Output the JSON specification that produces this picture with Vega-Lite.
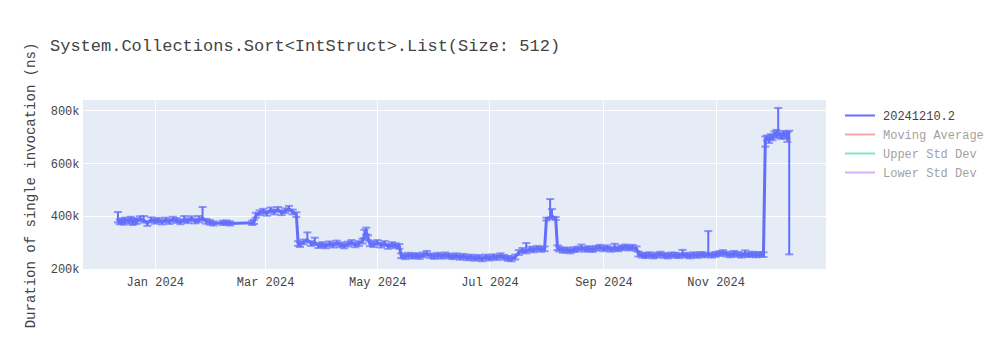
{
  "$schema": "https://vega.github.io/schema/vega-lite/v6.json",
  "width": 743,
  "height": 170,
  "autosize": {"type": "none"},
  "padding": {"left": 83, "top": 100, "right": 174, "bottom": 80},
  "background": "white",
  "config": {
    "view": {"fill": "#e5ecf6", "stroke": null},
    "font": "Liberation Mono"
  },
  "title": {
    "text": "System.Collections.Sort<IntStruct>.List(Size: 512)",
    "anchor": "start",
    "frame": "group",
    "dx": -33,
    "offset": 0,
    "dy": 26,
    "baseline": "alphabetic",
    "fontSize": 17,
    "fontWeight": "normal",
    "color": "#444",
    "font": "Liberation Mono"
  },
  "data": {
    "values": [
      {"d":"2023-12-12","s":"20241210.2","v":385000,"lo":376000,"hi":415000},
      {"d":"2023-12-13","s":"20241210.2","v":378000,"lo":369000,"hi":387000},
      {"d":"2023-12-14","s":"20241210.2","v":382000,"lo":373000,"hi":391000},
      {"d":"2023-12-15","s":"20241210.2","v":376000,"lo":367000,"hi":385000},
      {"d":"2023-12-16","s":"20241210.2","v":385000,"lo":376000,"hi":394000},
      {"d":"2023-12-18","s":"20241210.2","v":380000,"lo":371000,"hi":389000},
      {"d":"2023-12-19","s":"20241210.2","v":388000,"lo":379000,"hi":397000},
      {"d":"2023-12-20","s":"20241210.2","v":375000,"lo":366000,"hi":384000},
      {"d":"2023-12-21","s":"20241210.2","v":383000,"lo":374000,"hi":392000},
      {"d":"2023-12-22","s":"20241210.2","v":379000,"lo":370000,"hi":388000},
      {"d":"2023-12-24","s":"20241210.2","v":390000,"lo":381000,"hi":399000},
      {"d":"2023-12-26","s":"20241210.2","v":384000,"lo":375000,"hi":400000},
      {"d":"2023-12-28","s":"20241210.2","v":372000,"lo":363000,"hi":381000},
      {"d":"2023-12-30","s":"20241210.2","v":386000,"lo":377000,"hi":395000},
      {"d":"2024-01-01","s":"20241210.2","v":380000,"lo":371000,"hi":389000},
      {"d":"2024-01-03","s":"20241210.2","v":384000,"lo":375000,"hi":393000},
      {"d":"2024-01-05","s":"20241210.2","v":377000,"lo":368000,"hi":386000},
      {"d":"2024-01-07","s":"20241210.2","v":385000,"lo":376000,"hi":394000},
      {"d":"2024-01-09","s":"20241210.2","v":379000,"lo":370000,"hi":388000},
      {"d":"2024-01-11","s":"20241210.2","v":388000,"lo":379000,"hi":397000},
      {"d":"2024-01-13","s":"20241210.2","v":383000,"lo":374000,"hi":392000},
      {"d":"2024-01-15","s":"20241210.2","v":378000,"lo":369000,"hi":387000},
      {"d":"2024-01-17","s":"20241210.2","v":386000,"lo":377000,"hi":400000},
      {"d":"2024-01-19","s":"20241210.2","v":382000,"lo":373000,"hi":391000},
      {"d":"2024-01-21","s":"20241210.2","v":390000,"lo":381000,"hi":399000},
      {"d":"2024-01-23","s":"20241210.2","v":381000,"lo":372000,"hi":390000},
      {"d":"2024-01-25","s":"20241210.2","v":385000,"lo":376000,"hi":400000},
      {"d":"2024-01-27","s":"20241210.2","v":392000,"lo":383000,"hi":434000},
      {"d":"2024-01-29","s":"20241210.2","v":380000,"lo":371000,"hi":389000},
      {"d":"2024-01-31","s":"20241210.2","v":376000,"lo":367000,"hi":385000},
      {"d":"2024-02-02","s":"20241210.2","v":372000,"lo":364000,"hi":380000},
      {"d":"2024-02-07","s":"20241210.2","v":374000,"lo":366000,"hi":382000},
      {"d":"2024-02-09","s":"20241210.2","v":375000,"lo":367000,"hi":383000},
      {"d":"2024-02-11","s":"20241210.2","v":372000,"lo":364000,"hi":380000},
      {"d":"2024-02-23","s":"20241210.2","v":374000,"lo":366000,"hi":382000},
      {"d":"2024-02-24","s":"20241210.2","v":378000,"lo":370000,"hi":386000},
      {"d":"2024-02-25","s":"20241210.2","v":403000,"lo":394000,"hi":412000},
      {"d":"2024-02-27","s":"20241210.2","v":412000,"lo":403000,"hi":421000},
      {"d":"2024-02-29","s":"20241210.2","v":418000,"lo":409000,"hi":427000},
      {"d":"2024-03-02","s":"20241210.2","v":410000,"lo":401000,"hi":419000},
      {"d":"2024-03-04","s":"20241210.2","v":422000,"lo":413000,"hi":432000},
      {"d":"2024-03-06","s":"20241210.2","v":415000,"lo":406000,"hi":424000},
      {"d":"2024-03-08","s":"20241210.2","v":425000,"lo":416000,"hi":434000},
      {"d":"2024-03-10","s":"20241210.2","v":412000,"lo":403000,"hi":421000},
      {"d":"2024-03-12","s":"20241210.2","v":420000,"lo":411000,"hi":429000},
      {"d":"2024-03-14","s":"20241210.2","v":428000,"lo":419000,"hi":438000},
      {"d":"2024-03-16","s":"20241210.2","v":415000,"lo":406000,"hi":424000},
      {"d":"2024-03-18","s":"20241210.2","v":405000,"lo":396000,"hi":414000},
      {"d":"2024-03-19","s":"20241210.2","v":296000,"lo":287000,"hi":305000},
      {"d":"2024-03-20","s":"20241210.2","v":292000,"lo":283000,"hi":301000},
      {"d":"2024-03-22","s":"20241210.2","v":302000,"lo":293000,"hi":311000},
      {"d":"2024-03-24","s":"20241210.2","v":310000,"lo":301000,"hi":338000},
      {"d":"2024-03-26","s":"20241210.2","v":296000,"lo":287000,"hi":305000},
      {"d":"2024-03-28","s":"20241210.2","v":300000,"lo":291000,"hi":318000},
      {"d":"2024-03-30","s":"20241210.2","v":288000,"lo":279000,"hi":297000},
      {"d":"2024-04-01","s":"20241210.2","v":292000,"lo":283000,"hi":301000},
      {"d":"2024-04-03","s":"20241210.2","v":287000,"lo":278000,"hi":296000},
      {"d":"2024-04-05","s":"20241210.2","v":295000,"lo":286000,"hi":304000},
      {"d":"2024-04-07","s":"20241210.2","v":290000,"lo":281000,"hi":299000},
      {"d":"2024-04-09","s":"20241210.2","v":298000,"lo":289000,"hi":307000},
      {"d":"2024-04-11","s":"20241210.2","v":291000,"lo":282000,"hi":300000},
      {"d":"2024-04-13","s":"20241210.2","v":287000,"lo":278000,"hi":296000},
      {"d":"2024-04-15","s":"20241210.2","v":294000,"lo":285000,"hi":303000},
      {"d":"2024-04-17","s":"20241210.2","v":300000,"lo":291000,"hi":309000},
      {"d":"2024-04-19","s":"20241210.2","v":291000,"lo":282000,"hi":300000},
      {"d":"2024-04-21","s":"20241210.2","v":296000,"lo":287000,"hi":305000},
      {"d":"2024-04-23","s":"20241210.2","v":305000,"lo":296000,"hi":314000},
      {"d":"2024-04-24","s":"20241210.2","v":325000,"lo":316000,"hi":348000},
      {"d":"2024-04-25","s":"20241210.2","v":340000,"lo":330000,"hi":356000},
      {"d":"2024-04-26","s":"20241210.2","v":318000,"lo":309000,"hi":327000},
      {"d":"2024-04-27","s":"20241210.2","v":295000,"lo":286000,"hi":304000},
      {"d":"2024-04-29","s":"20241210.2","v":292000,"lo":283000,"hi":304000},
      {"d":"2024-05-01","s":"20241210.2","v":300000,"lo":291000,"hi":309000},
      {"d":"2024-05-03","s":"20241210.2","v":290000,"lo":281000,"hi":299000},
      {"d":"2024-05-05","s":"20241210.2","v":296000,"lo":287000,"hi":305000},
      {"d":"2024-05-07","s":"20241210.2","v":285000,"lo":276000,"hi":294000},
      {"d":"2024-05-09","s":"20241210.2","v":292000,"lo":283000,"hi":301000},
      {"d":"2024-05-11","s":"20241210.2","v":288000,"lo":279000,"hi":297000},
      {"d":"2024-05-13","s":"20241210.2","v":285000,"lo":276000,"hi":294000},
      {"d":"2024-05-14","s":"20241210.2","v":250000,"lo":241000,"hi":259000},
      {"d":"2024-05-16","s":"20241210.2","v":246000,"lo":237000,"hi":255000},
      {"d":"2024-05-18","s":"20241210.2","v":252000,"lo":243000,"hi":261000},
      {"d":"2024-05-20","s":"20241210.2","v":248000,"lo":239000,"hi":257000},
      {"d":"2024-05-22","s":"20241210.2","v":251000,"lo":242000,"hi":260000},
      {"d":"2024-05-24","s":"20241210.2","v":247000,"lo":238000,"hi":256000},
      {"d":"2024-05-26","s":"20241210.2","v":253000,"lo":244000,"hi":262000},
      {"d":"2024-05-28","s":"20241210.2","v":258000,"lo":249000,"hi":268000},
      {"d":"2024-05-30","s":"20241210.2","v":250000,"lo":241000,"hi":259000},
      {"d":"2024-06-01","s":"20241210.2","v":247000,"lo":238000,"hi":256000},
      {"d":"2024-06-03","s":"20241210.2","v":252000,"lo":243000,"hi":261000},
      {"d":"2024-06-05","s":"20241210.2","v":248000,"lo":239000,"hi":257000},
      {"d":"2024-06-07","s":"20241210.2","v":253000,"lo":244000,"hi":262000},
      {"d":"2024-06-09","s":"20241210.2","v":249000,"lo":240000,"hi":258000},
      {"d":"2024-06-11","s":"20241210.2","v":246000,"lo":237000,"hi":255000},
      {"d":"2024-06-13","s":"20241210.2","v":250000,"lo":241000,"hi":259000},
      {"d":"2024-06-15","s":"20241210.2","v":244000,"lo":235000,"hi":253000},
      {"d":"2024-06-17","s":"20241210.2","v":248000,"lo":239000,"hi":257000},
      {"d":"2024-06-19","s":"20241210.2","v":242000,"lo":233000,"hi":251000},
      {"d":"2024-06-21","s":"20241210.2","v":245000,"lo":236000,"hi":254000},
      {"d":"2024-06-23","s":"20241210.2","v":240000,"lo":231000,"hi":249000},
      {"d":"2024-06-25","s":"20241210.2","v":244000,"lo":235000,"hi":253000},
      {"d":"2024-06-27","s":"20241210.2","v":238000,"lo":229000,"hi":247000},
      {"d":"2024-06-29","s":"20241210.2","v":245000,"lo":236000,"hi":254000},
      {"d":"2024-07-01","s":"20241210.2","v":241000,"lo":232000,"hi":250000},
      {"d":"2024-07-03","s":"20241210.2","v":246000,"lo":237000,"hi":255000},
      {"d":"2024-07-05","s":"20241210.2","v":243000,"lo":234000,"hi":252000},
      {"d":"2024-07-07","s":"20241210.2","v":250000,"lo":241000,"hi":259000},
      {"d":"2024-07-09","s":"20241210.2","v":244000,"lo":235000,"hi":253000},
      {"d":"2024-07-11","s":"20241210.2","v":240000,"lo":231000,"hi":249000},
      {"d":"2024-07-13","s":"20241210.2","v":238000,"lo":229000,"hi":247000},
      {"d":"2024-07-15","s":"20241210.2","v":245000,"lo":236000,"hi":254000},
      {"d":"2024-07-17","s":"20241210.2","v":262000,"lo":253000,"hi":271000},
      {"d":"2024-07-19","s":"20241210.2","v":270000,"lo":261000,"hi":279000},
      {"d":"2024-07-21","s":"20241210.2","v":268000,"lo":259000,"hi":298000},
      {"d":"2024-07-23","s":"20241210.2","v":275000,"lo":266000,"hi":284000},
      {"d":"2024-07-25","s":"20241210.2","v":272000,"lo":263000,"hi":281000},
      {"d":"2024-07-27","s":"20241210.2","v":278000,"lo":269000,"hi":287000},
      {"d":"2024-07-29","s":"20241210.2","v":274000,"lo":265000,"hi":283000},
      {"d":"2024-07-31","s":"20241210.2","v":276000,"lo":267000,"hi":285000},
      {"d":"2024-08-01","s":"20241210.2","v":390000,"lo":383000,"hi":394000},
      {"d":"2024-08-03","s":"20241210.2","v":395000,"lo":388000,"hi":464000},
      {"d":"2024-08-04","s":"20241210.2","v":400000,"lo":393000,"hi":426000},
      {"d":"2024-08-06","s":"20241210.2","v":392000,"lo":385000,"hi":396000},
      {"d":"2024-08-07","s":"20241210.2","v":280000,"lo":271000,"hi":289000},
      {"d":"2024-08-08","s":"20241210.2","v":275000,"lo":266000,"hi":284000},
      {"d":"2024-08-10","s":"20241210.2","v":270000,"lo":261000,"hi":279000},
      {"d":"2024-08-12","s":"20241210.2","v":272000,"lo":263000,"hi":281000},
      {"d":"2024-08-14","s":"20241210.2","v":268000,"lo":259000,"hi":277000},
      {"d":"2024-08-16","s":"20241210.2","v":273000,"lo":264000,"hi":282000},
      {"d":"2024-08-18","s":"20241210.2","v":275000,"lo":266000,"hi":284000},
      {"d":"2024-08-20","s":"20241210.2","v":280000,"lo":271000,"hi":292000},
      {"d":"2024-08-22","s":"20241210.2","v":274000,"lo":265000,"hi":283000},
      {"d":"2024-08-24","s":"20241210.2","v":277000,"lo":268000,"hi":286000},
      {"d":"2024-08-26","s":"20241210.2","v":273000,"lo":264000,"hi":282000},
      {"d":"2024-08-28","s":"20241210.2","v":278000,"lo":269000,"hi":287000},
      {"d":"2024-08-30","s":"20241210.2","v":282000,"lo":273000,"hi":291000},
      {"d":"2024-09-01","s":"20241210.2","v":276000,"lo":267000,"hi":285000},
      {"d":"2024-09-03","s":"20241210.2","v":280000,"lo":271000,"hi":289000},
      {"d":"2024-09-05","s":"20241210.2","v":274000,"lo":265000,"hi":283000},
      {"d":"2024-09-07","s":"20241210.2","v":278000,"lo":269000,"hi":295000},
      {"d":"2024-09-09","s":"20241210.2","v":276000,"lo":267000,"hi":285000},
      {"d":"2024-09-11","s":"20241210.2","v":280000,"lo":271000,"hi":289000},
      {"d":"2024-09-13","s":"20241210.2","v":283000,"lo":274000,"hi":292000},
      {"d":"2024-09-15","s":"20241210.2","v":279000,"lo":270000,"hi":288000},
      {"d":"2024-09-17","s":"20241210.2","v":282000,"lo":273000,"hi":291000},
      {"d":"2024-09-19","s":"20241210.2","v":276000,"lo":267000,"hi":285000},
      {"d":"2024-09-20","s":"20241210.2","v":256000,"lo":247000,"hi":265000},
      {"d":"2024-09-22","s":"20241210.2","v":252000,"lo":243000,"hi":261000},
      {"d":"2024-09-24","s":"20241210.2","v":250000,"lo":241000,"hi":259000},
      {"d":"2024-09-26","s":"20241210.2","v":254000,"lo":245000,"hi":263000},
      {"d":"2024-09-28","s":"20241210.2","v":249000,"lo":240000,"hi":258000},
      {"d":"2024-09-30","s":"20241210.2","v":252000,"lo":243000,"hi":261000},
      {"d":"2024-10-02","s":"20241210.2","v":256000,"lo":247000,"hi":265000},
      {"d":"2024-10-04","s":"20241210.2","v":251000,"lo":242000,"hi":260000},
      {"d":"2024-10-06","s":"20241210.2","v":249000,"lo":240000,"hi":258000},
      {"d":"2024-10-08","s":"20241210.2","v":253000,"lo":244000,"hi":262000},
      {"d":"2024-10-10","s":"20241210.2","v":252000,"lo":243000,"hi":261000},
      {"d":"2024-10-12","s":"20241210.2","v":250000,"lo":241000,"hi":259000},
      {"d":"2024-10-14","s":"20241210.2","v":255000,"lo":246000,"hi":272000},
      {"d":"2024-10-16","s":"20241210.2","v":252000,"lo":243000,"hi":261000},
      {"d":"2024-10-18","s":"20241210.2","v":249000,"lo":240000,"hi":258000},
      {"d":"2024-10-20","s":"20241210.2","v":254000,"lo":245000,"hi":263000},
      {"d":"2024-10-22","s":"20241210.2","v":251000,"lo":242000,"hi":260000},
      {"d":"2024-10-24","s":"20241210.2","v":255000,"lo":246000,"hi":264000},
      {"d":"2024-10-26","s":"20241210.2","v":253000,"lo":244000,"hi":262000},
      {"d":"2024-10-28","s":"20241210.2","v":256000,"lo":247000,"hi":343000},
      {"d":"2024-10-30","s":"20241210.2","v":252000,"lo":243000,"hi":261000},
      {"d":"2024-11-01","s":"20241210.2","v":255000,"lo":246000,"hi":264000},
      {"d":"2024-11-03","s":"20241210.2","v":258000,"lo":249000,"hi":267000},
      {"d":"2024-11-05","s":"20241210.2","v":262000,"lo":253000,"hi":271000},
      {"d":"2024-11-07","s":"20241210.2","v":256000,"lo":247000,"hi":265000},
      {"d":"2024-11-09","s":"20241210.2","v":253000,"lo":244000,"hi":262000},
      {"d":"2024-11-11","s":"20241210.2","v":258000,"lo":249000,"hi":268000},
      {"d":"2024-11-13","s":"20241210.2","v":255000,"lo":246000,"hi":264000},
      {"d":"2024-11-15","s":"20241210.2","v":252000,"lo":243000,"hi":261000},
      {"d":"2024-11-17","s":"20241210.2","v":257000,"lo":248000,"hi":270000},
      {"d":"2024-11-19","s":"20241210.2","v":254000,"lo":245000,"hi":263000},
      {"d":"2024-11-21","s":"20241210.2","v":256000,"lo":247000,"hi":265000},
      {"d":"2024-11-23","s":"20241210.2","v":253000,"lo":244000,"hi":262000},
      {"d":"2024-11-25","s":"20241210.2","v":255000,"lo":246000,"hi":264000},
      {"d":"2024-11-27","s":"20241210.2","v":254000,"lo":245000,"hi":263000},
      {"d":"2024-11-28","s":"20241210.2","v":690000,"lo":662000,"hi":700000},
      {"d":"2024-11-29","s":"20241210.2","v":695000,"lo":686000,"hi":704000},
      {"d":"2024-11-30","s":"20241210.2","v":685000,"lo":676000,"hi":694000},
      {"d":"2024-12-01","s":"20241210.2","v":700000,"lo":691000,"hi":709000},
      {"d":"2024-12-02","s":"20241210.2","v":695000,"lo":686000,"hi":704000},
      {"d":"2024-12-03","s":"20241210.2","v":710000,"lo":701000,"hi":719000},
      {"d":"2024-12-04","s":"20241210.2","v":705000,"lo":696000,"hi":725000},
      {"d":"2024-12-05","s":"20241210.2","v":715000,"lo":706000,"hi":808000},
      {"d":"2024-12-06","s":"20241210.2","v":705000,"lo":696000,"hi":714000},
      {"d":"2024-12-07","s":"20241210.2","v":700000,"lo":691000,"hi":709000},
      {"d":"2024-12-08","s":"20241210.2","v":712000,"lo":703000,"hi":721000},
      {"d":"2024-12-09","s":"20241210.2","v":702000,"lo":693000,"hi":711000},
      {"d":"2024-12-10","s":"20241210.2","v":710000,"lo":680000,"hi":717000},
      {"d":"2024-12-11","s":"20241210.2","v":690000,"lo":255000,"hi":722000}
    ]
  },
  "encoding": {
    "x": {
      "field": "d",
      "type": "temporal",
      "scale": {"domain": ["2023-11-23", "2024-12-31"]},
      "axis": {
        "title": null,
        "format": "%b %Y",
        "values": ["2024-01-01T00:00:00", "2024-03-01T00:00:00", "2024-05-01T00:00:00", "2024-07-01T00:00:00", "2024-09-01T00:00:00", "2024-11-01T00:00:00"],
        "grid": true,
        "gridColor": "white",
        "gridWidth": 1,
        "domain": false,
        "ticks": false,
        "labelPadding": 6,
        "labelFont": "Liberation Mono",
        "labelFontSize": 12,
        "labelColor": "#444"
      }
    }
  },
  "layer": [
    {
      "mark": {"type": "errorbar", "ticks": {"size": 8, "thickness": 2, "color": "#636efa"}, "rule": {"strokeWidth": 2, "color": "#636efa"}, "color": "#636efa"},
      "encoding": {
        "y": {"field": "lo", "type": "quantitative", "scale": {"domain": [196000, 838000]}, "title": "Duration of single invocation (ns)"},
        "y2": {"field": "hi"}
      }
    },
    {
      "mark": {"type": "line", "strokeWidth": 3, "clip": true},
      "encoding": {
        "y": {
          "field": "v",
          "type": "quantitative",
          "scale": {"domain": [196000, 838000], "nice": false, "zero": false},
          "title": "Duration of single invocation (ns)",
          "axis": {
            "values": [200000, 400000, 600000, 800000],
            "format": "~s",
            "grid": true,
            "gridColor": "white",
            "gridWidth": 1,
            "domain": false,
            "ticks": false,
            "labelPadding": 4,
            "labelFont": "Liberation Mono",
            "labelFontSize": 12,
            "labelColor": "#444",
            "titleFont": "Liberation Mono",
            "titleFontSize": 14,
            "titleFontWeight": "normal",
            "titleColor": "#444",
            "titlePadding": 13
          }
        },
        "color": {
          "field": "s",
          "type": "nominal",
          "scale": {
            "domain": ["20241210.2", "Moving Average", "Upper Std Dev", "Lower Std Dev"],
            "range": ["#636efa", "#EF553B", "#00cc96", "#ab63fa"]
          },
          "legend": {
            "title": null,
            "orient": "none",
            "legendX": 762,
            "legendY": 8,
            "symbolType": "M-2.3,0H2.3",
            "symbolSize": 169,
            "symbolStrokeWidth": 2,
            "labelFont": "Liberation Mono",
            "labelFontSize": 12,
            "labelColor": "#444",
            "rowPadding": 5,
            "labelOffset": 23,
            "encode": {
              "labels": {"update": {"opacity": {"signal": "datum.value === '20241210.2' ? 1 : 0.5"}}},
              "symbols": {"update": {"opacity": {"signal": "datum.value === '20241210.2' ? 1 : 0.5"}, "x": {"value": 15}}}
            }
          }
        }
      }
    }
  ]
}
